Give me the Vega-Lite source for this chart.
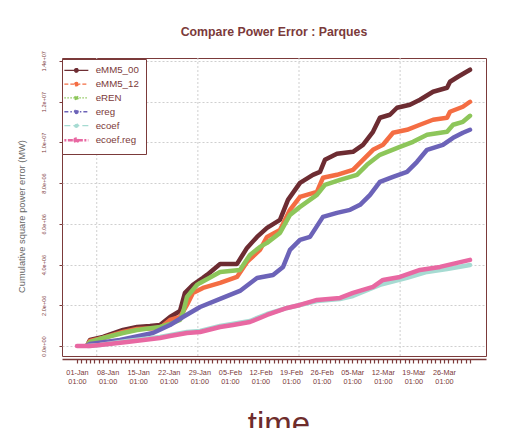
{
  "$schema": "https://vega.github.io/schema/vega-lite/v6.json",
  "width": 424,
  "height": 298,
  "autosize": {"type": "none"},
  "padding": {"left": 62, "top": 58, "right": 26, "bottom": 72},
  "background": "white",
  "title": {"text": "Compare Power Error : Parques", "fontSize": 12.3, "fontWeight": "bold", "color": "#7b3a3a", "font": "Liberation Sans", "anchor": "middle", "offset": 12},
  "config": {"view": {"stroke": "#7b3a3a", "strokeWidth": 1}, "font": "Liberation Sans"},
  "datasets": {
    "grid": [
      {"t": "2007-01-05T13:26:40Z"},
      {"t": "2007-01-28T17:00:00Z"},
      {"t": "2007-02-20T20:33:20Z"},
      {"t": "2007-03-16T00:06:40Z"}
    ],
    "series": [
      {"s": "eMM5_00", "t": "2007-01-03T13:00:00Z", "v": 98000},
      {"s": "eMM5_00", "t": "2007-01-04T00:00:00Z", "v": 295000},
      {"s": "eMM5_00", "t": "2007-01-07T00:00:00Z", "v": 442000},
      {"s": "eMM5_00", "t": "2007-01-11T14:00:00Z", "v": 786000},
      {"s": "eMM5_00", "t": "2007-01-14T19:00:00Z", "v": 934000},
      {"s": "eMM5_00", "t": "2007-01-17T18:00:00Z", "v": 983000},
      {"s": "eMM5_00", "t": "2007-01-20T01:00:00Z", "v": 1032000},
      {"s": "eMM5_00", "t": "2007-01-22T08:00:00Z", "v": 1425000},
      {"s": "eMM5_00", "t": "2007-01-24T15:00:00Z", "v": 1720000},
      {"s": "eMM5_00", "t": "2007-01-25T18:00:00Z", "v": 2604000},
      {"s": "eMM5_00", "t": "2007-01-27T14:00:00Z", "v": 2998000},
      {"s": "eMM5_00", "t": "2007-01-29T21:00:00Z", "v": 3342000},
      {"s": "eMM5_00", "t": "2007-01-30T19:00:00Z", "v": 3489000},
      {"s": "eMM5_00", "t": "2007-02-02T19:00:00Z", "v": 4029000},
      {"s": "eMM5_00", "t": "2007-02-06T16:00:00Z", "v": 4029000},
      {"s": "eMM5_00", "t": "2007-02-08T23:00:00Z", "v": 4816000},
      {"s": "eMM5_00", "t": "2007-02-11T06:00:00Z", "v": 5356000},
      {"s": "eMM5_00", "t": "2007-02-13T13:00:00Z", "v": 5799000},
      {"s": "eMM5_00", "t": "2007-02-16T12:00:00Z", "v": 6192000},
      {"s": "eMM5_00", "t": "2007-02-18T08:00:00Z", "v": 7174000},
      {"s": "eMM5_00", "t": "2007-02-21T02:00:00Z", "v": 8010000},
      {"s": "eMM5_00", "t": "2007-02-24T01:00:00Z", "v": 8403000},
      {"s": "eMM5_00", "t": "2007-02-25T16:00:00Z", "v": 8550000},
      {"s": "eMM5_00", "t": "2007-02-26T19:00:00Z", "v": 9140000},
      {"s": "eMM5_00", "t": "2007-03-01T13:00:00Z", "v": 9435000},
      {"s": "eMM5_00", "t": "2007-03-05T05:00:00Z", "v": 9533000},
      {"s": "eMM5_00", "t": "2007-03-07T12:00:00Z", "v": 9877000},
      {"s": "eMM5_00", "t": "2007-03-09T19:00:00Z", "v": 10516000},
      {"s": "eMM5_00", "t": "2007-03-11T09:00:00Z", "v": 11204000},
      {"s": "eMM5_00", "t": "2007-03-13T16:00:00Z", "v": 11351000},
      {"s": "eMM5_00", "t": "2007-03-15T07:00:00Z", "v": 11695000},
      {"s": "eMM5_00", "t": "2007-03-18T06:00:00Z", "v": 11843000},
      {"s": "eMM5_00", "t": "2007-03-20T13:00:00Z", "v": 12088000},
      {"s": "eMM5_00", "t": "2007-03-23T13:00:00Z", "v": 12482000},
      {"s": "eMM5_00", "t": "2007-03-26T18:00:00Z", "v": 12678000},
      {"s": "eMM5_00", "t": "2007-03-27T10:00:00Z", "v": 12973000},
      {"s": "eMM5_00", "t": "2007-03-29T06:00:00Z", "v": 13219000},
      {"s": "eMM5_00", "t": "2007-04-01T00:00:00Z", "v": 13563000},
      {"s": "eMM5_12", "t": "2007-01-03T13:00:00Z", "v": 98000},
      {"s": "eMM5_12", "t": "2007-01-04T00:00:00Z", "v": 246000},
      {"s": "eMM5_12", "t": "2007-01-07T00:00:00Z", "v": 393000},
      {"s": "eMM5_12", "t": "2007-01-11T14:00:00Z", "v": 688000},
      {"s": "eMM5_12", "t": "2007-01-14T19:00:00Z", "v": 835000},
      {"s": "eMM5_12", "t": "2007-01-20T01:00:00Z", "v": 885000},
      {"s": "eMM5_12", "t": "2007-01-22T08:00:00Z", "v": 1278000},
      {"s": "eMM5_12", "t": "2007-01-24T15:00:00Z", "v": 1425000},
      {"s": "eMM5_12", "t": "2007-01-26T05:00:00Z", "v": 2015000},
      {"s": "eMM5_12", "t": "2007-01-27T14:00:00Z", "v": 2604000},
      {"s": "eMM5_12", "t": "2007-01-29T21:00:00Z", "v": 2850000},
      {"s": "eMM5_12", "t": "2007-02-02T19:00:00Z", "v": 3096000},
      {"s": "eMM5_12", "t": "2007-02-06T16:00:00Z", "v": 3391000},
      {"s": "eMM5_12", "t": "2007-02-08T23:00:00Z", "v": 4128000},
      {"s": "eMM5_12", "t": "2007-02-11T22:00:00Z", "v": 4717000},
      {"s": "eMM5_12", "t": "2007-02-13T13:00:00Z", "v": 5356000},
      {"s": "eMM5_12", "t": "2007-02-16T12:00:00Z", "v": 5700000},
      {"s": "eMM5_12", "t": "2007-02-18T19:00:00Z", "v": 6683000},
      {"s": "eMM5_12", "t": "2007-02-21T02:00:00Z", "v": 7322000},
      {"s": "eMM5_12", "t": "2007-02-24T23:00:00Z", "v": 7568000},
      {"s": "eMM5_12", "t": "2007-02-26T08:00:00Z", "v": 8256000},
      {"s": "eMM5_12", "t": "2007-03-01T13:00:00Z", "v": 8403000},
      {"s": "eMM5_12", "t": "2007-03-05T05:00:00Z", "v": 8649000},
      {"s": "eMM5_12", "t": "2007-03-07T12:00:00Z", "v": 9140000},
      {"s": "eMM5_12", "t": "2007-03-09T19:00:00Z", "v": 9631000},
      {"s": "eMM5_12", "t": "2007-03-12T02:00:00Z", "v": 9877000},
      {"s": "eMM5_12", "t": "2007-03-14T09:00:00Z", "v": 10467000},
      {"s": "eMM5_12", "t": "2007-03-17T14:00:00Z", "v": 10614000},
      {"s": "eMM5_12", "t": "2007-03-20T13:00:00Z", "v": 10860000},
      {"s": "eMM5_12", "t": "2007-03-23T13:00:00Z", "v": 11106000},
      {"s": "eMM5_12", "t": "2007-03-26T18:00:00Z", "v": 11204000},
      {"s": "eMM5_12", "t": "2007-03-27T10:00:00Z", "v": 11499000},
      {"s": "eMM5_12", "t": "2007-03-30T09:00:00Z", "v": 11744000},
      {"s": "eMM5_12", "t": "2007-04-01T00:00:00Z", "v": 11990000},
      {"s": "eREN", "t": "2007-01-03T13:00:00Z", "v": 98000},
      {"s": "eREN", "t": "2007-01-04T00:00:00Z", "v": 197000},
      {"s": "eREN", "t": "2007-01-07T00:00:00Z", "v": 393000},
      {"s": "eREN", "t": "2007-01-11T14:00:00Z", "v": 639000},
      {"s": "eREN", "t": "2007-01-14T19:00:00Z", "v": 786000},
      {"s": "eREN", "t": "2007-01-20T01:00:00Z", "v": 934000},
      {"s": "eREN", "t": "2007-01-22T08:00:00Z", "v": 1081000},
      {"s": "eREN", "t": "2007-01-24T15:00:00Z", "v": 1278000},
      {"s": "eREN", "t": "2007-01-25T07:00:00Z", "v": 1622000},
      {"s": "eREN", "t": "2007-01-26T05:00:00Z", "v": 2408000},
      {"s": "eREN", "t": "2007-01-28T12:00:00Z", "v": 2998000},
      {"s": "eREN", "t": "2007-01-29T05:00:00Z", "v": 3096000},
      {"s": "eREN", "t": "2007-02-02T19:00:00Z", "v": 3636000},
      {"s": "eREN", "t": "2007-02-07T08:00:00Z", "v": 3735000},
      {"s": "eREN", "t": "2007-02-09T15:00:00Z", "v": 4472000},
      {"s": "eREN", "t": "2007-02-11T22:00:00Z", "v": 4865000},
      {"s": "eREN", "t": "2007-02-13T13:00:00Z", "v": 5061000},
      {"s": "eREN", "t": "2007-02-16T12:00:00Z", "v": 5553000},
      {"s": "eREN", "t": "2007-02-18T19:00:00Z", "v": 6437000},
      {"s": "eREN", "t": "2007-02-21T02:00:00Z", "v": 6830000},
      {"s": "eREN", "t": "2007-02-24T23:00:00Z", "v": 7420000},
      {"s": "eREN", "t": "2007-02-26T19:00:00Z", "v": 7912000},
      {"s": "eREN", "t": "2007-03-02T06:00:00Z", "v": 8157000},
      {"s": "eREN", "t": "2007-03-06T03:00:00Z", "v": 8403000},
      {"s": "eREN", "t": "2007-03-08T10:00:00Z", "v": 8894000},
      {"s": "eREN", "t": "2007-03-11T09:00:00Z", "v": 9386000},
      {"s": "eREN", "t": "2007-03-15T23:00:00Z", "v": 9779000},
      {"s": "eREN", "t": "2007-03-18T23:00:00Z", "v": 10025000},
      {"s": "eREN", "t": "2007-03-22T04:00:00Z", "v": 10369000},
      {"s": "eREN", "t": "2007-03-26T18:00:00Z", "v": 10516000},
      {"s": "eREN", "t": "2007-03-28T03:00:00Z", "v": 10860000},
      {"s": "eREN", "t": "2007-03-30T09:00:00Z", "v": 11007000},
      {"s": "eREN", "t": "2007-04-01T00:00:00Z", "v": 11302000},
      {"s": "ereg", "t": "2007-01-03T13:00:00Z", "v": 49000},
      {"s": "ereg", "t": "2007-01-04T00:00:00Z", "v": 98000},
      {"s": "ereg", "t": "2007-01-10T21:00:00Z", "v": 295000},
      {"s": "ereg", "t": "2007-01-18T10:00:00Z", "v": 639000},
      {"s": "ereg", "t": "2007-01-22T08:00:00Z", "v": 1032000},
      {"s": "ereg", "t": "2007-01-25T07:00:00Z", "v": 1425000},
      {"s": "ereg", "t": "2007-01-29T05:00:00Z", "v": 1916000},
      {"s": "ereg", "t": "2007-02-02T19:00:00Z", "v": 2310000},
      {"s": "ereg", "t": "2007-02-07T08:00:00Z", "v": 2703000},
      {"s": "ereg", "t": "2007-02-11T06:00:00Z", "v": 3342000},
      {"s": "ereg", "t": "2007-02-14T22:00:00Z", "v": 3489000},
      {"s": "ereg", "t": "2007-02-17T05:00:00Z", "v": 3882000},
      {"s": "ereg", "t": "2007-02-18T19:00:00Z", "v": 4717000},
      {"s": "ereg", "t": "2007-02-21T02:00:00Z", "v": 5209000},
      {"s": "ereg", "t": "2007-02-23T09:00:00Z", "v": 5356000},
      {"s": "ereg", "t": "2007-02-26T08:00:00Z", "v": 6339000},
      {"s": "ereg", "t": "2007-03-01T13:00:00Z", "v": 6536000},
      {"s": "ereg", "t": "2007-03-04T13:00:00Z", "v": 6683000},
      {"s": "ereg", "t": "2007-03-06T20:00:00Z", "v": 6929000},
      {"s": "ereg", "t": "2007-03-09T03:00:00Z", "v": 7420000},
      {"s": "ereg", "t": "2007-03-11T09:00:00Z", "v": 8059000},
      {"s": "ereg", "t": "2007-03-14T09:00:00Z", "v": 8305000},
      {"s": "ereg", "t": "2007-03-17T14:00:00Z", "v": 8550000},
      {"s": "ereg", "t": "2007-03-19T21:00:00Z", "v": 9042000},
      {"s": "ereg", "t": "2007-03-22T04:00:00Z", "v": 9631000},
      {"s": "ereg", "t": "2007-03-25T19:00:00Z", "v": 9877000},
      {"s": "ereg", "t": "2007-03-28T03:00:00Z", "v": 10221000},
      {"s": "ereg", "t": "2007-03-30T09:00:00Z", "v": 10467000},
      {"s": "ereg", "t": "2007-04-01T00:00:00Z", "v": 10614000},
      {"s": "ecoef", "t": "2007-01-03T13:00:00Z", "v": 0},
      {"s": "ecoef", "t": "2007-01-06T07:00:00Z", "v": 49000},
      {"s": "ecoef", "t": "2007-01-12T12:00:00Z", "v": 246000},
      {"s": "ecoef", "t": "2007-01-20T01:00:00Z", "v": 442000},
      {"s": "ecoef", "t": "2007-01-26T05:00:00Z", "v": 688000},
      {"s": "ecoef", "t": "2007-01-29T05:00:00Z", "v": 737000},
      {"s": "ecoef", "t": "2007-02-02T19:00:00Z", "v": 983000},
      {"s": "ecoef", "t": "2007-02-09T15:00:00Z", "v": 1229000},
      {"s": "ecoef", "t": "2007-02-13T13:00:00Z", "v": 1572000},
      {"s": "ecoef", "t": "2007-02-18T03:00:00Z", "v": 1867000},
      {"s": "ecoef", "t": "2007-02-21T02:00:00Z", "v": 2015000},
      {"s": "ecoef", "t": "2007-02-24T23:00:00Z", "v": 2211000},
      {"s": "ecoef", "t": "2007-03-02T06:00:00Z", "v": 2310000},
      {"s": "ecoef", "t": "2007-03-05T05:00:00Z", "v": 2457000},
      {"s": "ecoef", "t": "2007-03-11T09:00:00Z", "v": 2998000},
      {"s": "ecoef", "t": "2007-03-17T14:00:00Z", "v": 3342000},
      {"s": "ecoef", "t": "2007-03-22T04:00:00Z", "v": 3636000},
      {"s": "ecoef", "t": "2007-03-26T18:00:00Z", "v": 3784000},
      {"s": "ecoef", "t": "2007-04-01T00:00:00Z", "v": 3980000},
      {"s": "ecoef.reg", "t": "2007-01-01T01:00:00Z", "v": 0},
      {"s": "ecoef.reg", "t": "2007-01-04T00:00:00Z", "v": 0},
      {"s": "ecoef.reg", "t": "2007-01-06T07:00:00Z", "v": 49000},
      {"s": "ecoef.reg", "t": "2007-01-12T12:00:00Z", "v": 197000},
      {"s": "ecoef.reg", "t": "2007-01-20T01:00:00Z", "v": 393000},
      {"s": "ecoef.reg", "t": "2007-01-22T08:00:00Z", "v": 491000},
      {"s": "ecoef.reg", "t": "2007-01-26T05:00:00Z", "v": 639000},
      {"s": "ecoef.reg", "t": "2007-01-29T05:00:00Z", "v": 688000},
      {"s": "ecoef.reg", "t": "2007-02-02T19:00:00Z", "v": 934000},
      {"s": "ecoef.reg", "t": "2007-02-05T18:00:00Z", "v": 1032000},
      {"s": "ecoef.reg", "t": "2007-02-09T15:00:00Z", "v": 1179000},
      {"s": "ecoef.reg", "t": "2007-02-11T22:00:00Z", "v": 1376000},
      {"s": "ecoef.reg", "t": "2007-02-13T13:00:00Z", "v": 1523000},
      {"s": "ecoef.reg", "t": "2007-02-18T03:00:00Z", "v": 1867000},
      {"s": "ecoef.reg", "t": "2007-02-21T02:00:00Z", "v": 2015000},
      {"s": "ecoef.reg", "t": "2007-02-24T23:00:00Z", "v": 2260000},
      {"s": "ecoef.reg", "t": "2007-03-02T06:00:00Z", "v": 2359000},
      {"s": "ecoef.reg", "t": "2007-03-05T05:00:00Z", "v": 2604000},
      {"s": "ecoef.reg", "t": "2007-03-09T19:00:00Z", "v": 2899000},
      {"s": "ecoef.reg", "t": "2007-03-12T02:00:00Z", "v": 3243000},
      {"s": "ecoef.reg", "t": "2007-03-15T23:00:00Z", "v": 3391000},
      {"s": "ecoef.reg", "t": "2007-03-20T13:00:00Z", "v": 3735000},
      {"s": "ecoef.reg", "t": "2007-03-25T03:00:00Z", "v": 3882000},
      {"s": "ecoef.reg", "t": "2007-03-29T01:00:00Z", "v": 4079000},
      {"s": "ecoef.reg", "t": "2007-04-01T00:00:00Z", "v": 4226000}
    ]
  },
  "layer": [
    {
      "data": {"name": "grid"},
      "mark": {"type": "rule", "color": "#cfcfcf", "strokeDash": [2, 2], "strokeWidth": 1},
      "encoding": {
        "x": {"field": "t", "type": "temporal", "title": "time"}
      }
    },
    {
      "data": {"name": "series"},
      "mark": {"type": "line", "strokeWidth": 4.5, "strokeCap": "round", "strokeJoin": "round"},
      "encoding": {
        "x": {
          "field": "t", "type": "temporal", "title": "time",
          "scale": {"type": "utc", "nice": false, "domain": [1167316560000, 1175701680000]},
          "axis": {
            "tickCount": 500,
            "values": [
              1167613200000, 1167699600000, 1167786000000, 1167872400000, 1167958800000, 1168045200000, 1168131600000, 1168218000000, 1168304400000, 1168390800000,
              1168477200000, 1168563600000, 1168650000000, 1168736400000, 1168822800000, 1168909200000, 1168995600000, 1169082000000, 1169168400000, 1169254800000,
              1169341200000, 1169427600000, 1169514000000, 1169600400000, 1169686800000, 1169773200000, 1169859600000, 1169946000000, 1170032400000, 1170118800000,
              1170205200000, 1170291600000, 1170378000000, 1170464400000, 1170550800000, 1170637200000, 1170723600000, 1170810000000, 1170896400000, 1170982800000,
              1171069200000, 1171155600000, 1171242000000, 1171328400000, 1171414800000, 1171501200000, 1171587600000, 1171674000000, 1171760400000, 1171846800000,
              1171933200000, 1172019600000, 1172106000000, 1172192400000, 1172278800000, 1172365200000, 1172451600000, 1172538000000, 1172624400000, 1172710800000,
              1172797200000, 1172883600000, 1172970000000, 1173056400000, 1173142800000, 1173229200000, 1173315600000, 1173402000000, 1173488400000, 1173574800000,
              1173661200000, 1173747600000, 1173834000000, 1173920400000, 1174006800000, 1174093200000, 1174179600000, 1174266000000, 1174352400000, 1174438800000,
              1174525200000, 1174611600000, 1174698000000, 1174784400000, 1174870800000, 1174957200000, 1175043600000, 1175130000000, 1175216400000, 1175302800000,
              1175389200000
            ],
            "labelExpr": "round((datum.value - 1167613200000) / 86400000) % 7 == 0 ? [utcFormat(datum.value, '%d-%b'), '01:00'] : ''",
            "labelFontSize": 7.3,
            "labelColor": "#7b3a3a",
            "labelFont": "Liberation Sans",
            "labelLineHeight": 9,
            "labelAngle": 0,
            "labelAlign": "center",
            "labelBaseline": "top",
            "labelPadding": 5.5,
            "labelOverlap": false,
            "labelFlush": false,
            "labelBound": false,
            "tickSize": 4,
            "tickColor": "#7b3a3a",
            "tickWidth": 1.2,
            "domain": true,
            "domainColor": "#7b3a3a",
            "domainWidth": 1.5,
            "offset": 3,
            "grid": false,
            "title": "time",
            "titleFont": "Liberation Sans",
            "titleFontSize": 33,
            "titleFontWeight": "normal",
            "titleColor": "#6e2c2c",
            "titleX": 216.5,
            "titleY": 75,
            "titleAlign": "center",
            "titleBaseline": "alphabetic"
          }
        },
        "y": {
          "field": "v", "type": "quantitative",
          "scale": {"domain": [-491000, 14138000], "nice": false, "zero": false},
          "axis": {
            "tickCount": 50,
            "values": [0, 2000000, 4000000, 6000000, 8000000, 10000000, 12000000, 14000000],
            "labelExpr": "datum.value == 0 ? '0.0e+00' : datum.value < 10000000 ? format(datum.value / 1000000, '.1f') + 'e+06' : format(datum.value / 10000000, '.1f') + 'e+07'",
            "labelAngle": 270,
            "labelAlign": "center",
            "labelBaseline": "middle",
            "labelFontSize": 5.6,
            "labelColor": "#7b3a3a",
            "labelFont": "Liberation Sans",
            "labelPadding": 15.5,
            "tickSize": 3,
            "tickColor": "#7b3a3a",
            "domain": false,
            "grid": true,
            "gridDash": [2, 2],
            "gridColor": "#cfcfcf",
            "title": "Cumulative square power error (MW)",
            "titleFont": "Liberation Sans",
            "titleFontSize": 9.3,
            "titleFontWeight": "normal",
            "titleColor": "#666666",
            "titleAngle": 270,
            "titleX": -41,
            "titleY": 158,
            "titleAlign": "center",
            "titleBaseline": "middle"
          }
        },
        "color": {
          "field": "s", "type": "nominal",
          "scale": {
            "domain": ["eMM5_00", "eMM5_12", "eREN", "ereg", "ecoef", "ecoef.reg"],
            "range": ["#6d2c32", "#f46d43", "#8dc65a", "#6c63b8", "#a6dbd2", "#e868a2"]
          },
          "legend": {
            "title": null,
            "orient": "none",
            "legendX": 0,
            "legendY": 1,
            "strokeColor": "#7b3a3a",
            "fillColor": "white",
            "padding": 6.5,
            "symbolType": "M-2,0H2M0.3,0A0.3,0.3,0,1,1,-0.3,0A0.3,0.3,0,1,1,0.3,0",
            "symbolSize": 144,
            "symbolOffset": 3,
            "symbolStrokeWidth": 1.3,
            "labelFontSize": 9.7,
            "labelColor": "#7b3a3a",
            "labelFont": "Liberation Sans",
            "labelOffset": 14.5,
            "rowPadding": 2.8,
            "encode": {
              "symbols": {
                "update": {
                  "fill": {"signal": "scale('color', datum.value)"},
                  "strokeDash": {"signal": "datum.value == 'eMM5_12' ? [4, 2] : datum.value == 'eREN' ? [1.5, 1.5] : datum.value == 'ereg' ? [4, 2, 1.5, 2] : datum.value == 'ecoef' ? [6, 3] : datum.value == 'ecoef.reg' ? [2, 1.5, 5, 1.5] : [1, 0]"},
                  "strokeWidth": {"signal": "datum.value == 'ecoef.reg' ? 2.5 : 1.3"}
                }
              }
            }
          }
        }
      }
    }
  ]
}
